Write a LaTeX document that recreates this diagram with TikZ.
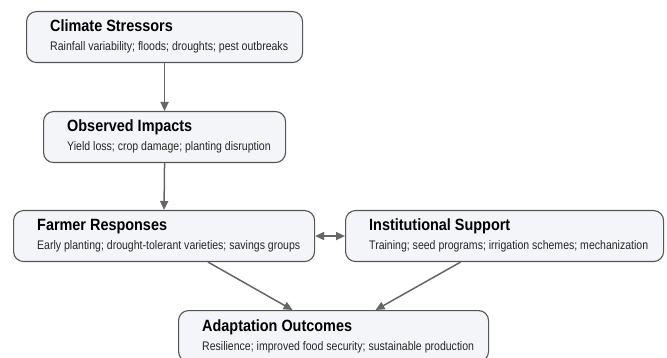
\documentclass[tikz,border=0pt]{standalone}
\usepackage{fontspec}
\setmainfont{Liberation Sans}[FakeStretch=0.885]
\newfontfamily\subfont{Liberation Sans}[FakeStretch=0.85]
\usetikzlibrary{arrows.meta,calc}
\definecolor{boxfill}{HTML}{F3F5F8}
\definecolor{boxdraw}{HTML}{555555}
\definecolor{arrowcol}{HTML}{666666}
\tikzset{
  card/.style={draw=boxdraw,fill=boxfill,line width=1.1pt,rounded corners=10pt,inner sep=0pt},
  ttl/.style={anchor=base west,inner sep=0pt,font=\fontsize{16.3}{18}\selectfont\bfseries,text=black},
  sub/.style={anchor=base west,inner sep=0pt,font=\subfont\fontsize{12.4}{14}\selectfont,text=black!85},
  conn/.style={draw=arrowcol,line width=1.5pt,-{Triangle[length=9pt,width=8pt]}},
  biconn/.style={draw=arrowcol,line width=1.5pt,{Triangle[length=9pt,width=8pt]}-{Triangle[length=9pt,width=8pt]}}
}
\begin{document}
\begin{tikzpicture}[x=1pt,y=-1pt]
\useasboundingbox (0,0) rectangle (667,358);
\begin{scope}
\clip (0,0) rectangle (667,358);
\node[card,minimum width=276pt,minimum height=51pt,anchor=north west] (b1) at (26,11) {};
\node[card,minimum width=242pt,minimum height=51pt,anchor=north west] (b2) at (43,111) {};
\node[card,minimum width=301pt,minimum height=51pt,anchor=north west] (b3) at (13,210) {};
\node[card,minimum width=318pt,minimum height=51pt,anchor=north west] (b4) at (345,210) {};
\node[card,minimum width=310pt,minimum height=51pt,anchor=north west] (b5) at (178,310) {};
\end{scope}
\node[ttl] (t1) at (50,32) {Climate Stressors};
\node[sub] (s1) at (50,51) {Rainfall variability; floods; droughts; pest outbreaks};
\node[ttl] (t2) at (67,132) {Observed Impacts};
\node[sub] (s2) at (67,151) {Yield loss; crop damage; planting disruption};
\node[ttl] (t3) at (37,231) {Farmer Responses};
\node[sub] (s3) at (37,250) {Early planting; drought-tolerant varieties; savings groups};
\node[ttl] (t4) at (369,231) {Institutional Support};
\node[sub] (s4) at (369,250) {Training; seed programs; irrigation schemes; mechanization};
\node[ttl] (t5) at (202,331) {Adaptation Outcomes};
\node[sub] (s5) at (202,350) {Resilience; improved food security; sustainable production};
\coordinate (a3s) at ([xshift=44pt]b3.south);
\coordinate (a5l) at ([xshift=-41pt]b5.north);
\coordinate (a4s) at ([xshift=-44pt]b4.south);
\coordinate (a5r) at ([xshift=42pt]b5.north);
\draw[conn] (b1.south) -- (b2.north);
\draw[conn] (b2.south) -- (b3.north);
\draw[biconn] (b3.east) -- (b4.west);
\draw[conn] (a3s) -- (a5l);
\draw[conn] (a4s) -- (a5r);
\end{tikzpicture}
\end{document}
